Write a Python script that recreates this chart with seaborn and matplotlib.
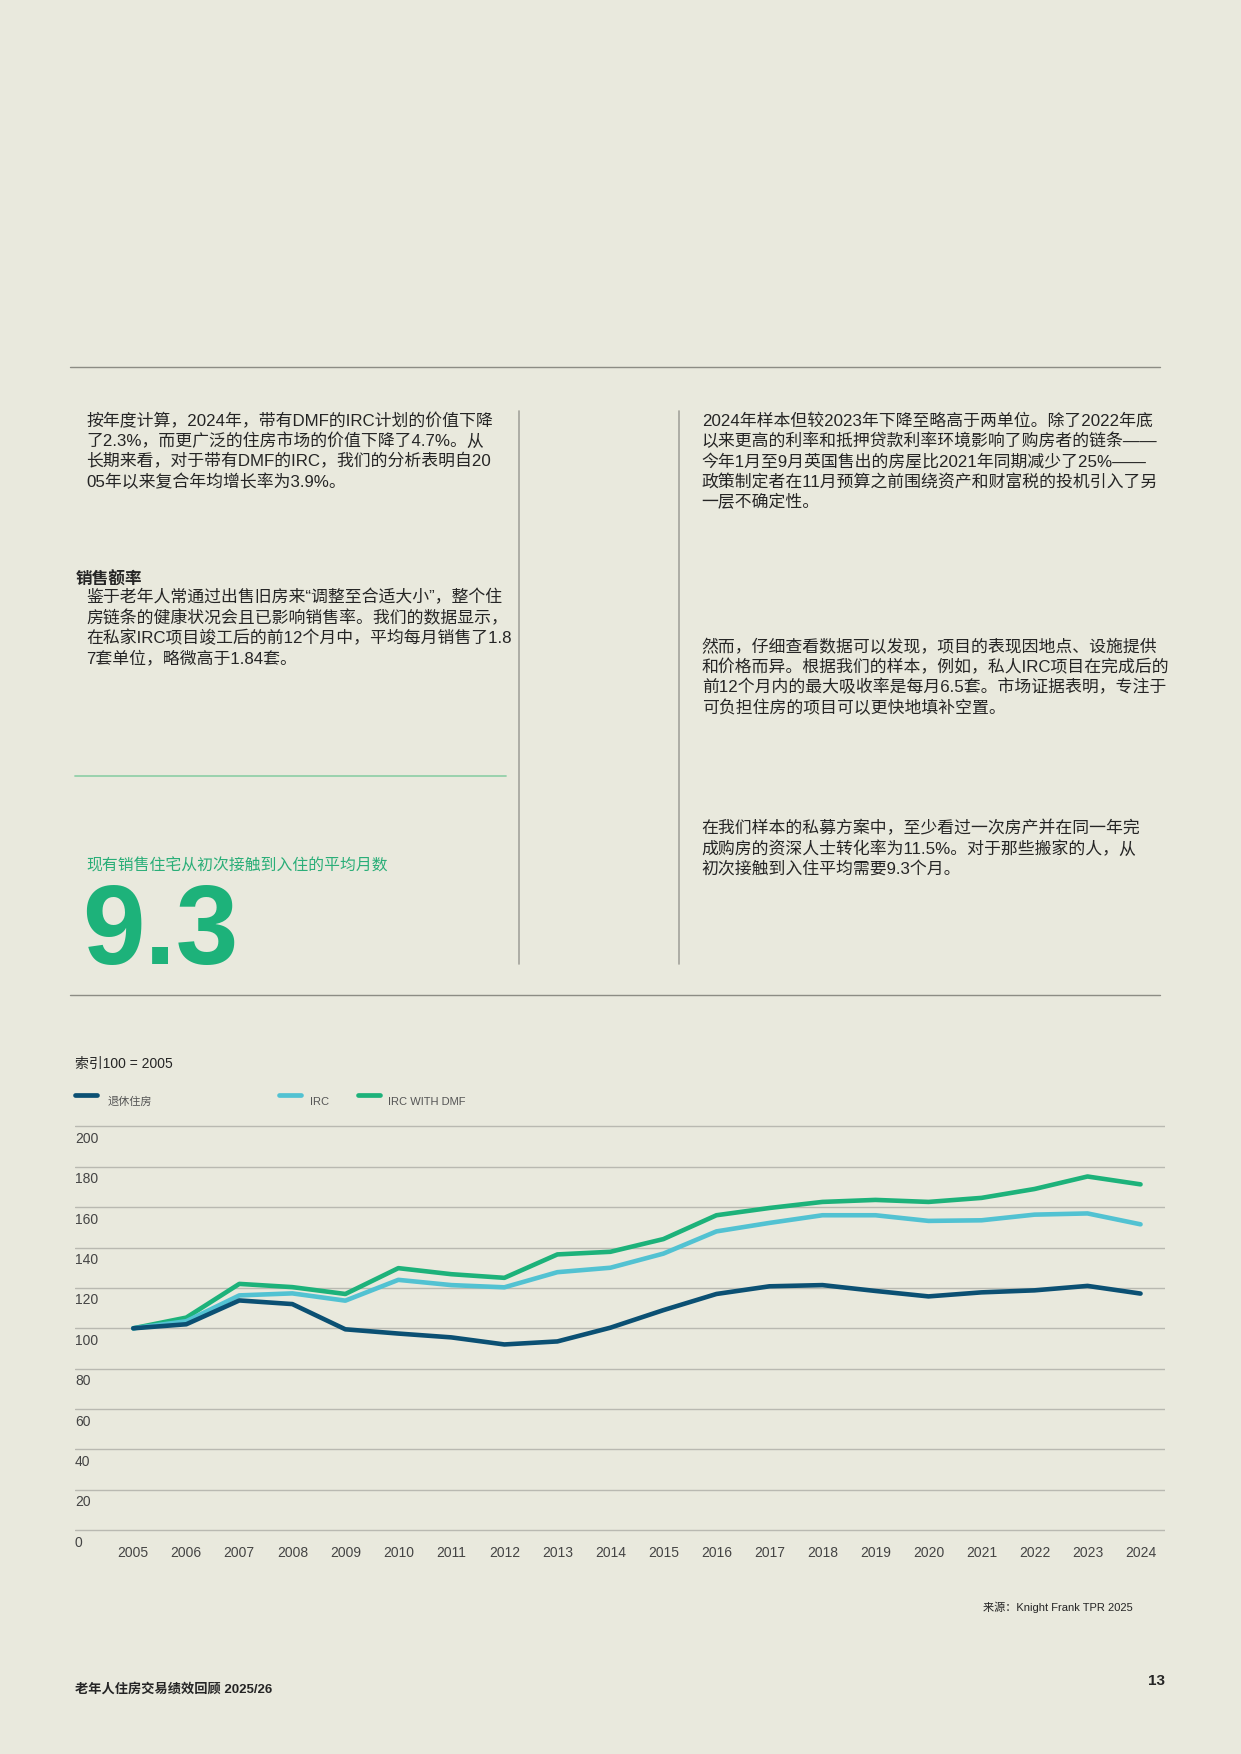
import pandas as pd
import matplotlib.pyplot as plt
import seaborn as sns
from matplotlib.lines import Line2D

# chart data, index 100 = 2005
years = [2005, 2006, 2007, 2008, 2009, 2010, 2011, 2012, 2013, 2014,
         2015, 2016, 2017, 2018, 2019, 2020, 2021, 2022, 2023, 2024]
retirement = [100, 102, 113.8, 112, 99.5, 97.4, 95.5, 92, 93.5, 100.3,
              109, 117, 120.8, 121.4, 118.5, 115.8, 117.8, 118.8, 121, 117.2]
irc = [100, 103.5, 116.3, 117.3, 113.7, 124, 121.4, 120.3, 127.8, 130,
       137, 148, 152.2, 156, 156, 153.2, 153.5, 156.3, 156.9, 151.5]
irc_dmf = [100, 105.3, 122, 120.4, 117, 129.8, 126.8, 125, 136.6, 137.9,
           144.2, 156, 159.6, 162.6, 163.6, 162.6, 164.6, 169, 175.2, 171.3]
series_names = ["退休住房", "IRC", "IRC WITH DMF"]
y_ticks = [0, 20, 40, 60, 80, 100, 120, 140, 160, 180, 200]

para_left_1 = ["按年度计算，2024年，带有DMF的IRC计划的价值下降",
               "了2.3%，而更广泛的住房市场的价值下降了4.7%。从",
               "长期来看，对于带有DMF的IRC，我们的分析表明自20",
               "05年以来复合年均增长率为3.9%。"]
para_left_2 = ["鉴于老年人常通过出售旧房来“调整至合适大小”，整个住",
               "房链条的健康状况会且已影响销售率。我们的数据显示，",
               "在私家IRC项目竣工后的前12个月中，平均每月销售了1.8",
               "7套单位，略微高于1.84套。"]
para_right_1 = ["2024年样本但较2023年下降至略高于两单位。除了2022年底",
                "以来更高的利率和抵押贷款利率环境影响了购房者的链条——",
                "今年1月至9月英国售出的房屋比2021年同期减少了25%——",
                "政策制定者在11月预算之前围绕资产和财富税的投机引入了另",
                "一层不确定性。"]
para_right_2 = ["然而，仔细查看数据可以发现，项目的表现因地点、设施提供",
                "和价格而异。根据我们的样本，例如，私人IRC项目在完成后的",
                "前12个月内的最大吸收率是每月6.5套。市场证据表明，专注于",
                "可负担住房的项目可以更快地填补空置。"]
para_right_3 = ["在我们样本的私募方案中，至少看过一次房产并在同一年完",
                "成购房的资深人士转化率为11.5%。对于那些搬家的人，从",
                "初次接触到入住平均需要9.3个月。"]

bg = "#e9e9dd"
dark = "#0b5073"
light = "#52c2d2"
green = "#1db27a"
text_col = "#252525"

sns.set_theme(style="white")
plt.rcParams['font.family'] = ['Liberation Sans', 'Noto Sans CJK SC']

fig = plt.figure(figsize=(12.41, 17.54), dpi=100, facecolor=bg)


def paragraph(lines, x, y0, size=12.15):
    dy = 0.01167
    for i, line in enumerate(lines):
        fig.text(x, y0 - i * dy, line, fontsize=size, color=text_col, va="center", ha="left")


# rules and dividers
fig.add_artist(Line2D([0.0568, 0.935], [0.7908, 0.7908], color="#8c8c84", lw=1.0))
fig.add_artist(Line2D([0.0568, 0.935], [0.4330, 0.4330], color="#8c8c84", lw=1.0))
fig.add_artist(Line2D([0.4184, 0.4184], [0.4503, 0.7659], color="#a3a39b", lw=1.2))
fig.add_artist(Line2D([0.5473, 0.5473], [0.4503, 0.7659], color="#a3a39b", lw=1.2))
fig.add_artist(Line2D([0.0604, 0.4076], [0.5574, 0.5574], color="#93d0aa", lw=1.3))

paragraph(para_left_1, 0.0694, 0.7602)
fig.text(0.0613, 0.6696, "销售额率", fontsize=12, fontweight="bold", color=text_col, va="center")
paragraph(para_left_2, 0.0694, 0.6594)
paragraph(para_right_1, 0.5654, 0.7602)
paragraph(para_right_2, 0.5654, 0.6314)
paragraph(para_right_3, 0.5654, 0.5281)

fig.text(0.0694, 0.5064, "现有销售住宅从初次接触到入住的平均月数", fontsize=11.4,
         color="#2aae78", va="center")
fig.text(0.0665, 0.4503, "9.3", fontsize=81, fontweight="bold", color=green, va="baseline")

# chart header and legend
fig.text(0.0604, 0.3935, "索引100 = 2005", fontsize=10, color=text_col, va="center")
legend_cols = [dark, light, green]
legend_line_x = [0.0604, 0.2245, 0.2886]
legend_text_x = [0.0866, 0.2498, 0.3129]
for name, col, lx, tx in zip(series_names, legend_cols, legend_line_x, legend_text_x):
    fig.add_artist(Line2D([lx, lx + 0.018], [0.3756, 0.3756], color=col, lw=3.4,
                          solid_capstyle="round"))
    fig.text(tx, 0.3718, name, fontsize=8, color="#555555", va="center")

# line chart
ax = fig.add_axes([0.0604, 0.12645, 0.8783, 0.2325])
ax.set_facecolor(bg)
df = pd.DataFrame({
    "year": years * 3,
    "value": retirement + irc + irc_dmf,
    "series": [series_names[0]] * len(years) + [series_names[1]] * len(years)
              + [series_names[2]] * len(years),
})
sns.lineplot(data=df, x="year", y="value", hue="series",
             hue_order=["IRC WITH DMF", "IRC", "退休住房"],
             palette={"退休住房": dark, "IRC": light, "IRC WITH DMF": green},
             linewidth=3.3, legend=False, ax=ax)
ax.set_xlim(2003.90, 2024.46)
ax.set_ylim(-1, 201)
ax.set_yticks(y_ticks)
ax.set_yticklabels([])
ax.grid(axis="y", color="#b9b9b1", lw=1.0)
ax.grid(axis="x", visible=False)
ax.set_axisbelow(True)
for s in ax.spines.values():
    s.set_visible(False)
ax.tick_params(axis="y", length=0)
ax.set_xticks(years)
ax.set_xticklabels([str(y) for y in years], fontsize=10, color="#444444")
ax.tick_params(axis="x", length=0, pad=10)
ax.set_xlabel("")
ax.set_ylabel("")
for v in y_ticks:
    ax.annotate(str(v), xy=(0, v), xycoords=("axes fraction", "data"),
                xytext=(0, -4), textcoords="offset points",
                ha="left", va="top", fontsize=10, color="#444444")

# source and footer
fig.text(0.9125, 0.0835, "来源：Knight Frank TPR 2025", fontsize=8, color=text_col,
         ha="right", va="center")
fig.text(0.0604, 0.0370, "老年人住房交易绩效回顾 2025/26", fontsize=9.5, fontweight="bold",
         color=text_col, va="center")
fig.text(0.9387, 0.0415, "13", fontsize=11, fontweight="bold", color=text_col,
         ha="right", va="center")

fig.savefig("out.png", dpi=100, facecolor=bg)
